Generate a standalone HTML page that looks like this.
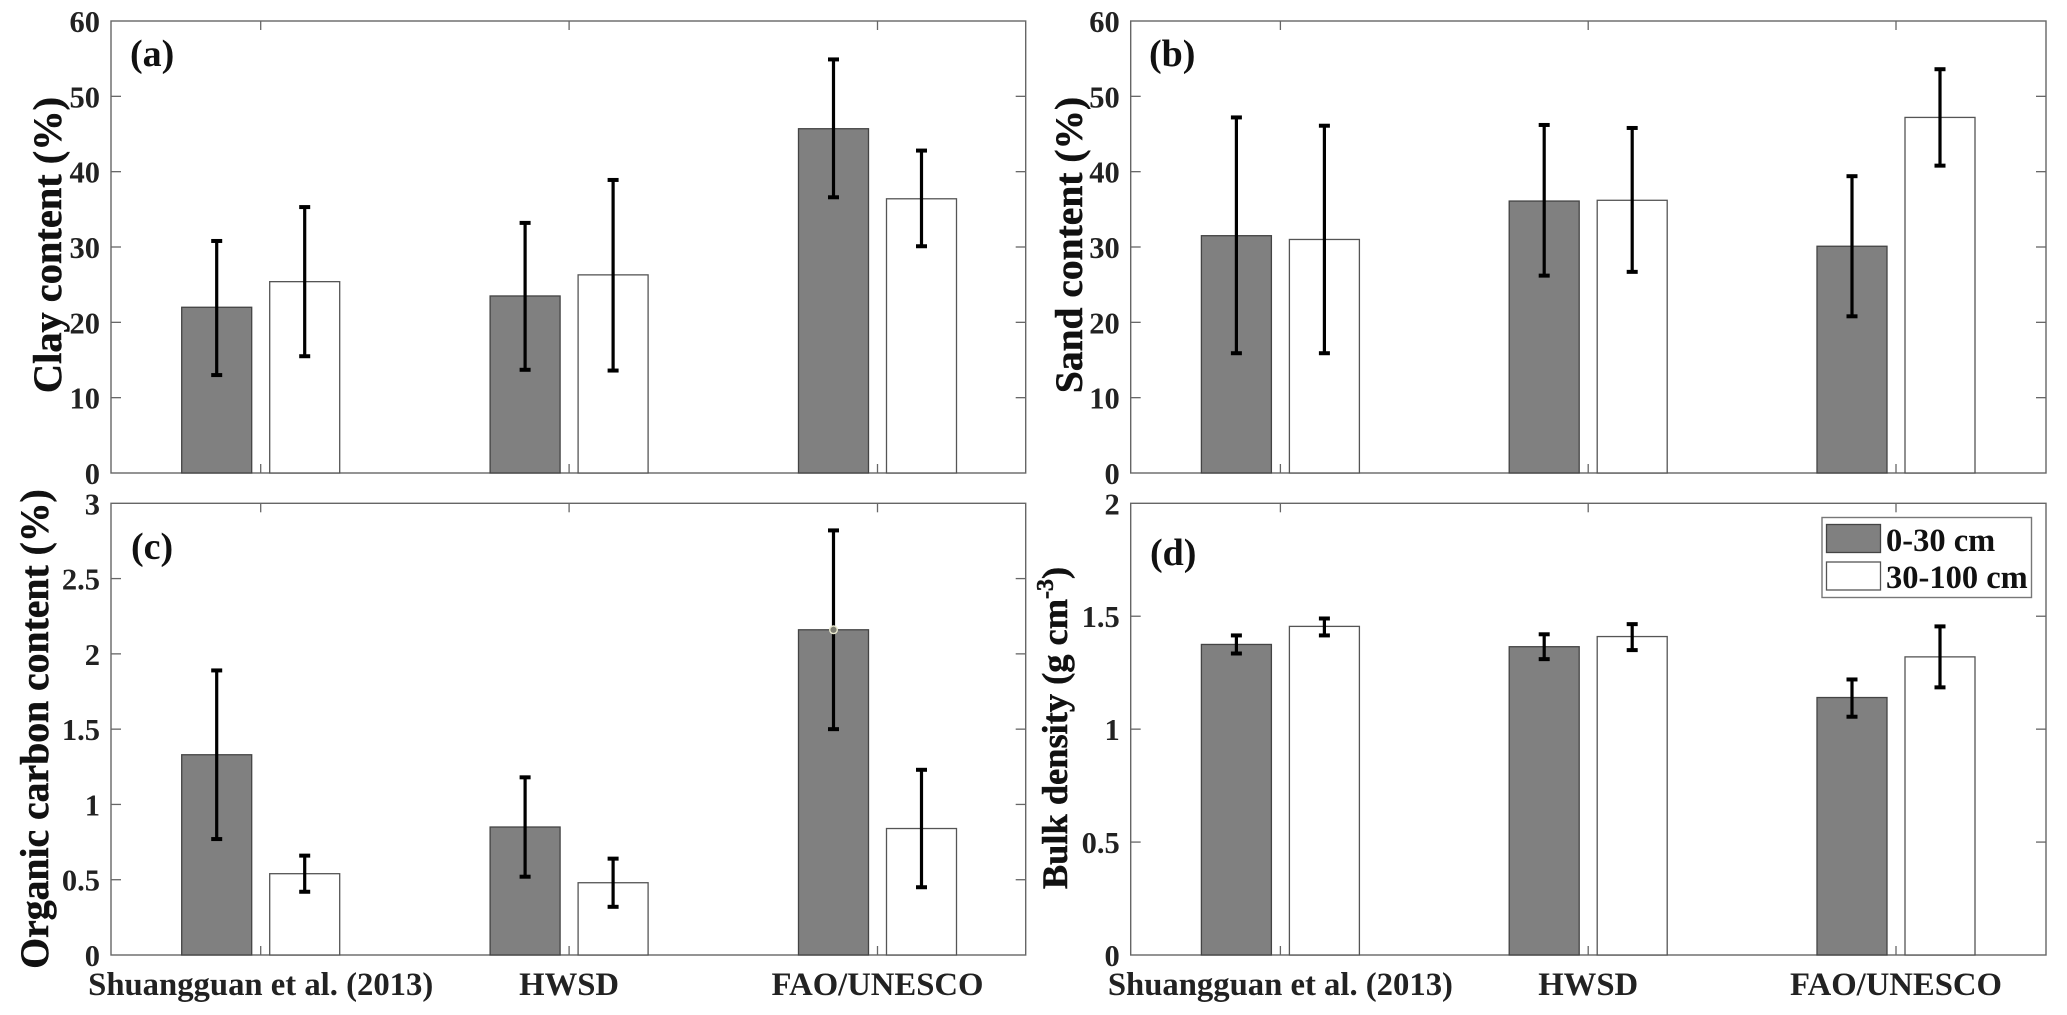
<!DOCTYPE html>
<html lang="en">
<head>
<meta charset="utf-8">
<title>Soil properties by dataset</title>
<style>
html,body{margin:0;padding:0;background:#fff;}
svg{display:block;font-family:"Liberation Serif",serif;font-weight:bold;}
.tick-text{font-size:30.5px;fill:#222;text-anchor:end;}
.cat-text{font-size:32.7px;fill:#222;text-anchor:middle;}
.y-title{font-size:40px;fill:#111;stroke:#111;stroke-width:0.5px;text-anchor:middle;}
.panel-letter{font-size:38px;fill:#111;}
.legend-text{font-size:32.5px;fill:#111;}
</style>
</head>
<body>
<svg id="figure" xmlns="http://www.w3.org/2000/svg" width="2067" height="1015" viewBox="0 0 2067 1015">
  <rect x="0" y="0" width="2067" height="1015" fill="#fff"/>
  <g id="panel-a"></g>
  <g id="panel-b"></g>
  <g id="panel-c"></g>
  <g id="panel-d"></g>

  <text class="y-title" style="font-size:40.4px" transform="translate(61 245) rotate(-90)">Clay content (%)</text>
  <text class="y-title" style="font-size:39.5px" transform="translate(1082 245) rotate(-90)">Sand content (%)</text>
  <text class="y-title" style="font-size:39.7px" transform="translate(48 729) rotate(-90)">Organic carbon content (%)</text>
  <text class="y-title" style="font-size:36.4px" transform="translate(1067 728) rotate(-90)">Bulk density (g cm<tspan font-size="24" dy="-14">-3</tspan><tspan dy="14">)</tspan></text>

  <text class="panel-letter" x="130" y="66">(a)</text>
  <text class="panel-letter" x="1149" y="66">(b)</text>
  <text class="panel-letter" x="131" y="559">(c)</text>
  <text class="panel-letter" x="1150" y="565">(d)</text>

  <g>
    <rect x="1822" y="517.5" width="209.5" height="80" fill="#fff" stroke="#777" stroke-width="1.4"/>
    <rect x="1826.5" y="524.5" width="54" height="28" fill="#808080" stroke="#444" stroke-width="1.3"/>
    <text class="legend-text" x="1886" y="551">0-30 cm</text>
    <rect x="1826.5" y="562" width="54" height="28" fill="#fff" stroke="#555" stroke-width="1.3"/>
    <text class="legend-text" x="1886" y="588">30-100 cm</text>
  </g>
</svg>

<script>
const categories = ["Shuangguan et al. (2013)", "HWSD", "FAO/UNESCO"];

const clayTicks = [0, 10, 20, 30, 40, 50, 60];
const clayShallow = [22, 23.5, 45.7];
const clayDeep = [25.4, 26.3, 36.4];
const clayShallowLow = [13, 13.7, 36.6];
const clayShallowHigh = [30.8, 33.2, 54.9];
const clayDeepLow = [15.5, 13.6, 30.1];
const clayDeepHigh = [35.3, 38.9, 42.8];

const sandTicks = [0, 10, 20, 30, 40, 50, 60];
const sandShallow = [31.5, 36.1, 30.1];
const sandDeep = [31, 36.2, 47.2];
const sandShallowLow = [15.9, 26.2, 20.8];
const sandShallowHigh = [47.2, 46.2, 39.4];
const sandDeepLow = [15.9, 26.7, 40.8];
const sandDeepHigh = [46.1, 45.8, 53.6];

const carbonTicks = [0, 0.5, 1, 1.5, 2, 2.5, 3];
const carbonShallow = [1.33, 0.85, 2.16];
const carbonDeep = [0.54, 0.48, 0.84];
const carbonShallowLow = [0.77, 0.52, 1.5];
const carbonShallowHigh = [1.89, 1.18, 2.82];
const carbonDeepLow = [0.42, 0.32, 0.45];
const carbonDeepHigh = [0.66, 0.64, 1.23];

const densityTicks = [0, 0.5, 1, 1.5, 2];
const densityShallow = [1.375, 1.365, 1.14];
const densityDeep = [1.455, 1.41, 1.32];
const densityShallowLow = [1.335, 1.31, 1.055];
const densityShallowHigh = [1.415, 1.42, 1.22];
const densityDeepLow = [1.415, 1.35, 1.185];
const densityDeepHigh = [1.49, 1.465, 1.455];

const SVG_NS = "http://www.w3.org/2000/svg";
const AXIS_COLOR = "#666";

function svgEl(parent, tag, attrs) {
  const el = document.createElementNS(SVG_NS, tag);
  for (const key in attrs) el.setAttribute(key, attrs[key]);
  parent.appendChild(el);
  return el;
}

function drawPanel(groupId, box, ticks, series, showCategories) {
  const root = document.getElementById(groupId);
  const left = box.left, right = box.right, top = box.top, bottom = box.bottom;
  const yMax = ticks[ticks.length - 1];
  const yScale = function (v) { return bottom - (v / yMax) * (bottom - top); };
  const firstTick = left + 149.7;
  const catStep = box.step;
  const xScale = function (i) { return firstTick + i * catStep; };
  const barOffset = 44;
  const barWidth = 70;

  const frame = svgEl(root, "rect", {
    x: left, y: top, width: right - left, height: bottom - top,
    fill: "#fff", stroke: AXIS_COLOR, "stroke-width": 1.4
  });
  
  

  ticks.forEach(function (t) {
    const y = yScale(t);
    if (t !== 0 && t !== yMax) {
      const leftTick = svgEl(root, "line", { x1: left, x2: left + 10, y1: y, y2: y, stroke: AXIS_COLOR, "stroke-width": 1.3 });
      
      
      const rightTick = svgEl(root, "line", { x1: right - 10, x2: right, y1: y, y2: y, stroke: AXIS_COLOR, "stroke-width": 1.3 });
      
      
    }
    const label = svgEl(root, "text", { x: left - 11, y: y + 11, class: "tick-text" });
    label.textContent = String(t);
    
    
  });

  categories.forEach(function (name, i) {
    const x = xScale(i);
    const bottomTick = svgEl(root, "line", { x1: x, x2: x, y1: bottom - 9, y2: bottom, stroke: AXIS_COLOR, "stroke-width": 1.3 });
    
    
    const topTick = svgEl(root, "line", { x1: x, x2: x, y1: top, y2: top + 9, stroke: AXIS_COLOR, "stroke-width": 1.3 });
    
    
    if (showCategories) {
      const label = svgEl(root, "text", { x: x, y: 995, class: "cat-text" });
      label.textContent = name;
      
      
    }
  });

  series.forEach(function (s) {
    s.values.forEach(function (v, i) {
      const cx = xScale(i) + s.offset * barOffset;
      const y = yScale(v);
      const bar = svgEl(root, "rect", {
        x: cx - barWidth / 2, y: y, width: barWidth, height: bottom - y,
        fill: s.fill, stroke: s.stroke, "stroke-width": 1.3
      });
      
      
    });
  });

  series.forEach(function (s) {
    s.values.forEach(function (v, i) {
      const cx = xScale(i) + s.offset * barOffset;
      const yLow = yScale(s.low[i]);
      const yHigh = yScale(s.high[i]);
      const stem = svgEl(root, "line", { x1: cx, x2: cx, y1: yHigh, y2: yLow, stroke: "#000", "stroke-width": 3.2 });
      
      
      const capTop = svgEl(root, "line", { x1: cx - 5.5, x2: cx + 5.5, y1: yHigh, y2: yHigh, stroke: "#000", "stroke-width": 4 });
      
      
      const capLow = svgEl(root, "line", { x1: cx - 5.5, x2: cx + 5.5, y1: yLow, y2: yLow, stroke: "#000", "stroke-width": 4 });
      
      
    });
  });

  return { xScale: xScale, yScale: yScale, root: root, barOffset: barOffset };
}

function makeSeries(values, low, high, isShallow) {
  return {
    name: isShallow ? "0-30-cm" : "30-100-cm",
    values: values, low: low, high: high,
    offset: isShallow ? -1 : 1,
    fill: isShallow ? "#808080" : "#fff",
    stroke: isShallow ? "#444" : "#555"
  };
}

drawPanel("panel-a", { left: 111, right: 1025.7, top: 21, bottom: 473, step: 308.4 }, clayTicks, [
  makeSeries(clayShallow, clayShallowLow, clayShallowHigh, true),
  makeSeries(clayDeep, clayDeepLow, clayDeepHigh, false)
], false);

drawPanel("panel-b", { left: 1130.7, right: 2046, top: 21, bottom: 473, step: 307.8 }, sandTicks, [
  makeSeries(sandShallow, sandShallowLow, sandShallowHigh, true),
  makeSeries(sandDeep, sandDeepLow, sandDeepHigh, false)
], false);

const panelC = drawPanel("panel-c", { left: 111, right: 1025.7, top: 503.3, bottom: 955, step: 308.4 }, carbonTicks, [
  makeSeries(carbonShallow, carbonShallowLow, carbonShallowHigh, true),
  makeSeries(carbonDeep, carbonDeepLow, carbonDeepHigh, false)
], true);

drawPanel("panel-d", { left: 1130.7, right: 2046, top: 503.3, bottom: 955, step: 307.8 }, densityTicks, [
  makeSeries(densityShallow, densityShallowLow, densityShallowHigh, true),
  makeSeries(densityDeep, densityDeepLow, densityDeepHigh, false)
], true);

const markerDot = svgEl(panelC.root, "circle", {
  cx: panelC.xScale(2) - panelC.barOffset,
  cy: panelC.yScale(carbonShallow[2]),
  r: 3.8, fill: "#7d7d72", stroke: "#e9e9cf", "stroke-width": 1.4
});


</script>
</body>
</html>
